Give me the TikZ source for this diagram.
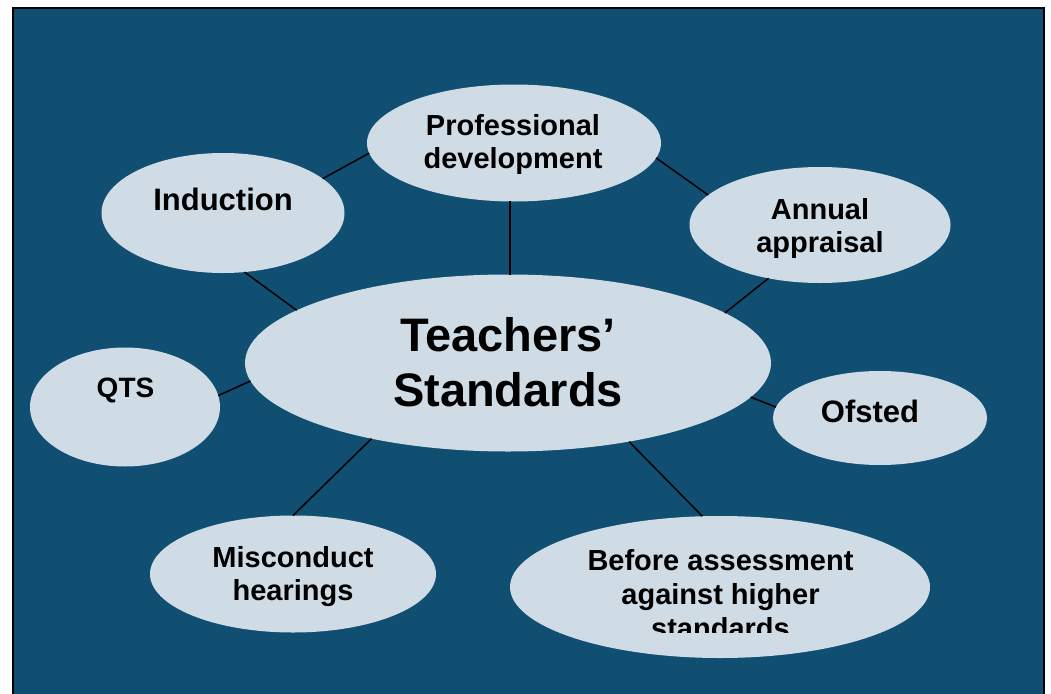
\documentclass[tikz,border=0pt]{standalone}
\usepackage{fontspec}
\setmainfont{Liberation Sans}
\usetikzlibrary{shapes.geometric}
\definecolor{bgblue}{RGB}{16,79,114}
\definecolor{ellfill}{RGB}{207,220,229}
\tikzset{
  bubble/.style={ellipse, fill=ellfill, draw=none, inner sep=0pt, outer sep=0pt},
  lbl/.style={inner sep=0pt, outer sep=0pt, align=center, font=\bfseries\fontsize{29}{33}\selectfont, text=black},
  link/.style={draw=black, line width=1.5pt}
}
\begin{document}
\begin{tikzpicture}[x=1pt,y=-1pt]
\useasboundingbox (0,0) rectangle (1051,693);
\fill[white] (0,0) rectangle (1051,693);
\draw[fill=bgblue, draw=black, line width=2.5pt] (13,8) rectangle (1044,710);
% ellipses
\node[bubble, minimum width=294pt, minimum height=117pt] (pd) at (514,143) {};
\node[bubble, minimum width=243pt, minimum height=120pt] (ind) at (223,213) {};
\node[bubble, minimum width=261pt, minimum height=116pt] (ann) at (820,225) {};
\node[bubble, minimum width=526pt, minimum height=177pt] (ts) at (508,363) {};
\node[bubble, minimum width=190pt, minimum height=119pt] (qts) at (125,407) {};
\node[bubble, minimum width=214pt, minimum height=94pt] (ofs) at (880,418) {};
\node[bubble, minimum width=286pt, minimum height=117pt] (mis) at (293,574) {};
\node[bubble, minimum width=420pt, minimum height=142pt] (bef) at (720,587) {};
% connectors
\draw[link] (ind.19.3) -- (pd.184.7);
\draw[link] (pd.-94) -- (pd.-94 |- ts.north);
\draw[link] (ind.-70.5) -- (ts.166);
\draw[link] (pd.-6.6) -- (ann.165.3);
\draw[link] (ann.226) -- (ts.13.9);
\draw[link] (qts.7.2) -- (ts.184.2);
\draw[link] (ofs.174.6) -- (ts.-8.1);
\draw[link] (mis.90) -- (ts.209.1);
\draw[link] (bef.104.4) -- (ts.-33);
% labels
\node[lbl] (tpd) at (513,145) {Professional\\development};
\node[lbl, font=\bfseries\fontsize{31}{35}\selectfont] (tind) at (223,199) {Induction};
\node[lbl] (tann) at (820,228) {Annual\\appraisal};
\node[lbl, font=\bfseries\fontsize{47}{55}\selectfont] (tts) at (508,362) {Teachers’\\Standards};
\node[lbl, font=\bfseries\fontsize{28}{33}\selectfont] (tqts) at (125.5,390.5) {QTS};
\node[lbl, font=\bfseries\fontsize{31}{35}\selectfont] (tofs) at (870,411.5) {Ofsted};
\node[lbl] (tmis) at (293,576.5) {Misconduct\\hearings};
\begin{scope}
\clip (500,500) rectangle (940,632);
\node[lbl, font=\bfseries\fontsize{29}{34}\selectfont] (tbef) at (720.5,594) {Before assessment\\against higher\\standards};
\end{scope}
\end{tikzpicture}
\end{document}
